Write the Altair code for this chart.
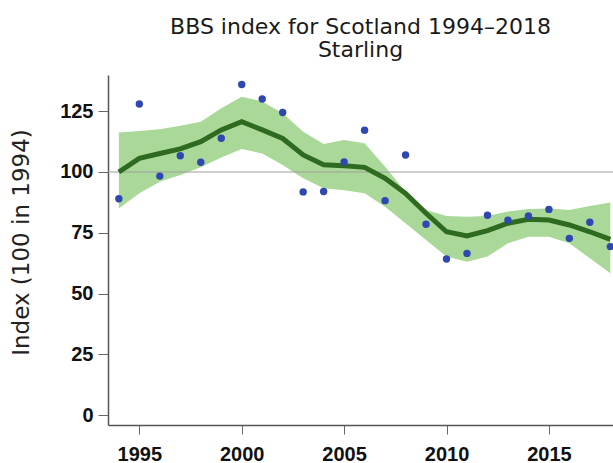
import altair as alt
import pandas as pd

# BBS Starling index for Scotland, 1994-2018
years = list(range(1994, 2019))
annual_index = [89, 128, 98.3, 106.7, 104, 113.9, 136, 130, 124.5, 91.8, 92, 104.1,
                117.2, 88.2, 107, 78.5, 64.2, 66.5, 82.2, 80.2, 81.9, 84.6, 72.7, 79.3, 69.3]
smoothed = [100, 105.6, 107.6, 109.5, 112.5, 117.3, 120.7, 117.3, 113.8, 107, 103, 102.6,
            101.9, 97.4, 91.2, 83, 75.4, 73.7, 75.9, 78.9, 80.5, 80.2, 78.2, 75.4, 72.3]
upper_ci = [116.2, 116.9, 117.6, 119, 120.7, 126.2, 131, 129, 124.2, 116.6, 111.5, 113.2,
            111.8, 102.2, 91.9, 84.4, 81.9, 81.6, 81.9, 83.7, 84.8, 85, 84.4, 86, 87.4]
lower_ci = [85, 91.2, 96, 98.8, 101.9, 106, 109.5, 107.6, 102.9, 97.4, 93.3, 92.5,
            91.2, 85.7, 78.9, 72, 65.2, 63.1, 65.2, 70.7, 73.4, 73.4, 70.7, 64.5, 58.3]
baseline_value = [100]
x_ticks = [1995, 2000, 2005, 2010, 2015]
y_ticks = [0, 25, 50, 75, 100, 125]

df = pd.DataFrame({
    "year": years,
    "index": annual_index,
    "trend": smoothed,
    "upper": upper_ci,
    "lower": lower_ci,
})
ref = pd.DataFrame({"value": baseline_value})

x_scale = alt.Scale(domain=[1993.47, 2018.13], nice=False, zero=False)
y_scale = alt.Scale(domain=[-4.1, 139.9], nice=False, zero=False)

x_axis = alt.Axis(
    values=x_ticks, format="d", title=None, grid=False,
    domainColor="#555555", domainWidth=1.5,
    tickColor="#666666", tickSize=9, tickWidth=1,
    labelFont="Liberation Sans", labelFontWeight="bold", labelFontSize=20,
    labelColor="#111111", labelPadding=10,
)
y_axis = alt.Axis(
    values=y_ticks, title="Index (100 in 1994)", grid=False,
    domainColor="#555555", domainWidth=1.5,
    tickColor="#666666", tickSize=10, tickWidth=1,
    labelFont="Liberation Sans", labelFontWeight="bold", labelFontSize=20,
    labelColor="#111111", labelPadding=5,
    titleFont="DejaVu Sans", titleFontWeight="normal", titleFontSize=23,
    titleColor="#222222", titleAngle=270, titleX=-87, titleY=167,
    titleAlign="center", titleBaseline="middle",
)

band = alt.Chart(df).mark_area(color="#a9d898", opacity=1).encode(
    x=alt.X("year:Q", scale=x_scale, axis=x_axis),
    y=alt.Y("lower:Q", scale=y_scale, axis=y_axis),
    y2="upper:Q",
)

rule = alt.Chart(ref).mark_rule(color="#a0a0a0", strokeWidth=1.2).encode(
    y=alt.Y("value:Q", scale=y_scale),
    x=alt.value(0), x2=alt.value(505),
)

line = alt.Chart(df).mark_line(color="#2e6a1f", strokeWidth=5).encode(
    x=alt.X("year:Q", scale=x_scale),
    y=alt.Y("trend:Q", scale=y_scale),
)

points = alt.Chart(df).mark_circle(color="#2f47b0", opacity=1, size=55).encode(
    x=alt.X("year:Q", scale=x_scale),
    y=alt.Y("index:Q", scale=y_scale),
)

chart = alt.layer(band, rule, line, points).properties(
    width=505,
    height=350,
    title=alt.Title(
        ["BBS index for Scotland 1994\u20132018", "Starling"],
        font="DejaVu Sans", fontSize=22, fontWeight="normal", color="#1a1a1a",
        anchor="middle", lineHeight=23, offset=-4, baseline="alphabetic",
    ),
    autosize=alt.AutoSizeParams(type="none"),
    padding={"left": 108, "top": 75, "right": 0, "bottom": 38},
).configure_view(stroke=None)

chart.save("out.html", embed_options={"renderer": "svg", "actions": False})
